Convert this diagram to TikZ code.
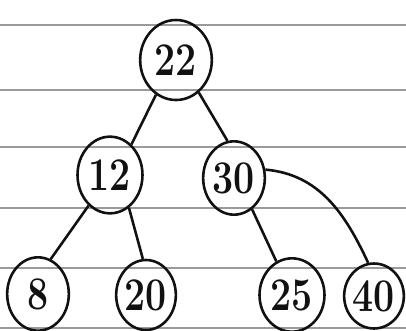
\documentclass[tikz,border=0pt]{standalone}
\usepackage{xcolor}
\usepackage{graphicx}
\usetikzlibrary{shapes.geometric}
\definecolor{paperline}{HTML}{9A9A9A}
\definecolor{inkline}{HTML}{111111}
\newcommand{\hwnum}[1]{\scalebox{0.8}[1]{#1}}
\tikzset{
  treenode/.style={
    ellipse,
    draw=inkline,
    line width=2.2pt,
    inner sep=0pt,
    text=inkline,
    font=\fontsize{40}{44}\selectfont\bfseries
  },
  edge/.style={
    draw=inkline,
    line width=2.2pt
  },
  ruling/.style={
    draw=paperline,
    line width=1.2pt
  }
}

\begin{document}
\begin{tikzpicture}[x=0.03cm,y=-0.03cm]

\useasboundingbox (0,0) rectangle (406,331);

% lined paper
\foreach \y in {25,90,147,208,268,328} {
  \draw[ruling] (0,\y) -- (406,\y);
}

\node[treenode, minimum width=2.15cm, minimum height=2.4cm] (root) at (176,60) {\hwnum{22}};

\node[treenode, minimum width=1.95cm, minimum height=2.3cm] (n12) at (110,175) {\hwnum{12}};
\node[treenode, minimum width=1.85cm, minimum height=2.2cm] (n30) at (234,178) {\hwnum{30}};

\node[treenode, minimum width=1.85cm, minimum height=2.2cm] (n8) at (38,294) {\hwnum{8}};
\node[treenode, minimum width=1.75cm, minimum height=2.1cm] (n20) at (146,295) {\hwnum{20}};
\node[treenode, minimum width=1.95cm, minimum height=2.2cm] (n25) at (292,295) {\hwnum{25}};
\node[treenode, minimum width=1.45cm, minimum height=1.95cm] (n40) at (374,296) {\hwnum{40}};

\draw[edge] (root.240) -- (n12.55);
\draw[edge] (root.305) -- (n30.100);
\draw[edge] (n12.235) -- (n8.70);
\draw[edge] (n12.300) -- (n20.95);
\draw[edge] (n30.300) -- (n25.115);
\draw[edge] (n30.15) to[out=-5,in=115] (n40.100);

\end{tikzpicture}
\end{document}
